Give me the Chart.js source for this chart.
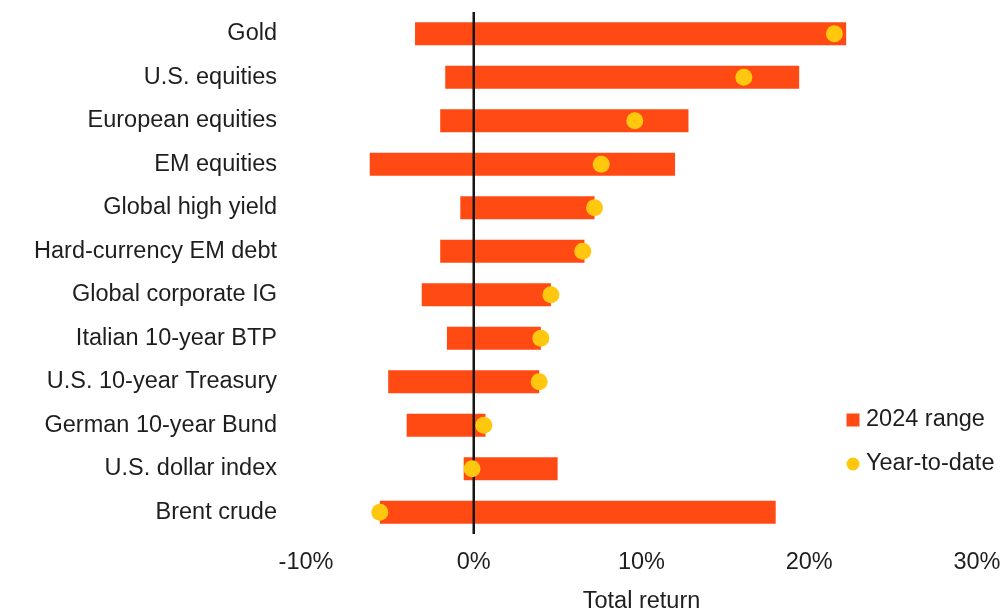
<!DOCTYPE html>
<html>
<head>
<meta charset="utf-8">
<script src="https://cdn.jsdelivr.net/npm/chart.js@4/dist/chart.umd.min.js"></script>
<style>
  html, body { margin: 0; padding: 0; background: #fff; }
  #wrap { position: relative; width: 1002px; height: 611px; }
</style>
</head>
<body>
<div id="wrap"><canvas id="c" width="1002" height="611"></canvas></div>
<script>
const categories = [
  "Gold", "U.S. equities", "European equities", "EM equities",
  "Global high yield", "Hard-currency EM debt", "Global corporate IG",
  "Italian 10-year BTP", "U.S. 10-year Treasury", "German 10-year Bund",
  "U.S. dollar index", "Brent crude"
];
const rangeLow  = [-3.5, -1.7, -2.0, -6.2, -0.8, -2.0, -3.1, -1.6, -5.1, -4.0, -0.6, -5.6];
const rangeHigh = [22.2, 19.4, 12.8, 12.0, 7.2, 6.6, 4.6, 4.0, 3.9, 0.7, 5.0, 18.0];
const ytd       = [21.5, 16.1, 9.6, 7.6, 7.2, 6.5, 4.6, 4.0, 3.9, 0.6, -0.1, -5.6];
const xTicks = [-10, 0, 10, 20, 30];
const seriesNames = ["2024 range", "Year-to-date"];
const axisTitle = "Total return";

const BAR = "#FF4A14";
const DOT = "#FFC80E";
const TEXT = "#1e1e1e";
const FONT = "'Liberation Sans', Arial, sans-serif";
const FS = 23.5;

const zeroLine = {
  id: "zeroLine",
  afterDatasetDraw(chart, args) {
    if (args.index !== 0) return;
    const ctx = chart.ctx, a = chart.chartArea;
    const x = chart.scales.x.getPixelForValue(0);
    ctx.save();
    ctx.strokeStyle = "#151515";
    ctx.lineWidth = 2.5;
    ctx.beginPath();
    ctx.moveTo(x, a.top);
    ctx.lineTo(x, a.bottom);
    ctx.stroke();
    ctx.restore();
  }
};

const legendBox = {
  id: "legendBox",
  afterDraw(chart) {
    const ctx = chart.ctx, a = chart.chartArea;
    const mx = a.right - 124;
    const tx = mx + 13;
    const y1 = a.bottom - 114, y2 = a.bottom - 70;
    ctx.save();
    ctx.fillStyle = BAR;
    ctx.fillRect(mx - 6.5, y1 - 6.5, 13, 13);
    ctx.fillStyle = DOT;
    ctx.beginPath();
    ctx.arc(mx, y2, 6.5, 0, Math.PI * 2);
    ctx.fill();
    ctx.fillStyle = TEXT;
    ctx.font = FS + "px " + FONT;
    ctx.textBaseline = "middle";
    ctx.textAlign = "left";
    ctx.fillText(seriesNames[0], tx, y1);
    ctx.fillText(seriesNames[1], tx, y2);
    ctx.restore();
  }
};

new Chart(document.getElementById("c"), {
  type: "bar",
  data: {
    labels: categories,
    datasets: [
      {
        label: seriesNames[0],
        data: rangeLow.map((v, i) => [v, rangeHigh[i]]),
        backgroundColor: BAR,
        borderWidth: 0,
        categoryPercentage: 1,
        barPercentage: 0.53,
        order: 2
      },
      {
        type: "line",
        label: seriesNames[1],
        indexAxis: "y",
        data: ytd,
        showLine: false,
        pointRadius: 8.5,
        pointHoverRadius: 8.5,
        pointBackgroundColor: DOT,
        pointBorderWidth: 0,
        borderColor: DOT,
        order: 1
      }
    ]
  },
  options: {
    indexAxis: "y",
    responsive: false,
    animation: false,
    devicePixelRatio: 1,
    layout: { padding: { top: 12, right: 25, bottom: 0, left: 0 } },
    plugins: { legend: { display: false }, tooltip: { enabled: false } },
    scales: {
      x: {
        type: "linear",
        min: xTicks[0],
        max: xTicks[xTicks.length - 1],
        afterBuildTicks(s) { s.ticks = xTicks.map(v => ({ value: v })); },
        afterFit(s) { s.height = 77; s.paddingLeft = 0; s.paddingRight = 0; },
        grid: { display: false, drawTicks: false },
        border: { display: false },
        ticks: {
          padding: 14,
          color: TEXT,
          font: { family: FONT, size: FS },
          maxRotation: 0,
          callback: v => v + "%"
        },
        title: {
          display: true,
          text: axisTitle,
          color: TEXT,
          font: { family: FONT, size: FS },
          padding: { top: 0, bottom: -5 }
        }
      },
      y: {
        afterFit(s) { s.width = 306; s.paddingTop = 0; s.paddingBottom = 0; },
        grid: { display: false, drawTicks: false },
        border: { display: false },
        ticks: {
          padding: 29,
          color: TEXT,
          font: { family: FONT, size: FS }
        }
      }
    }
  },
  plugins: [zeroLine, legendBox]
});
</script>
</body>
</html>
